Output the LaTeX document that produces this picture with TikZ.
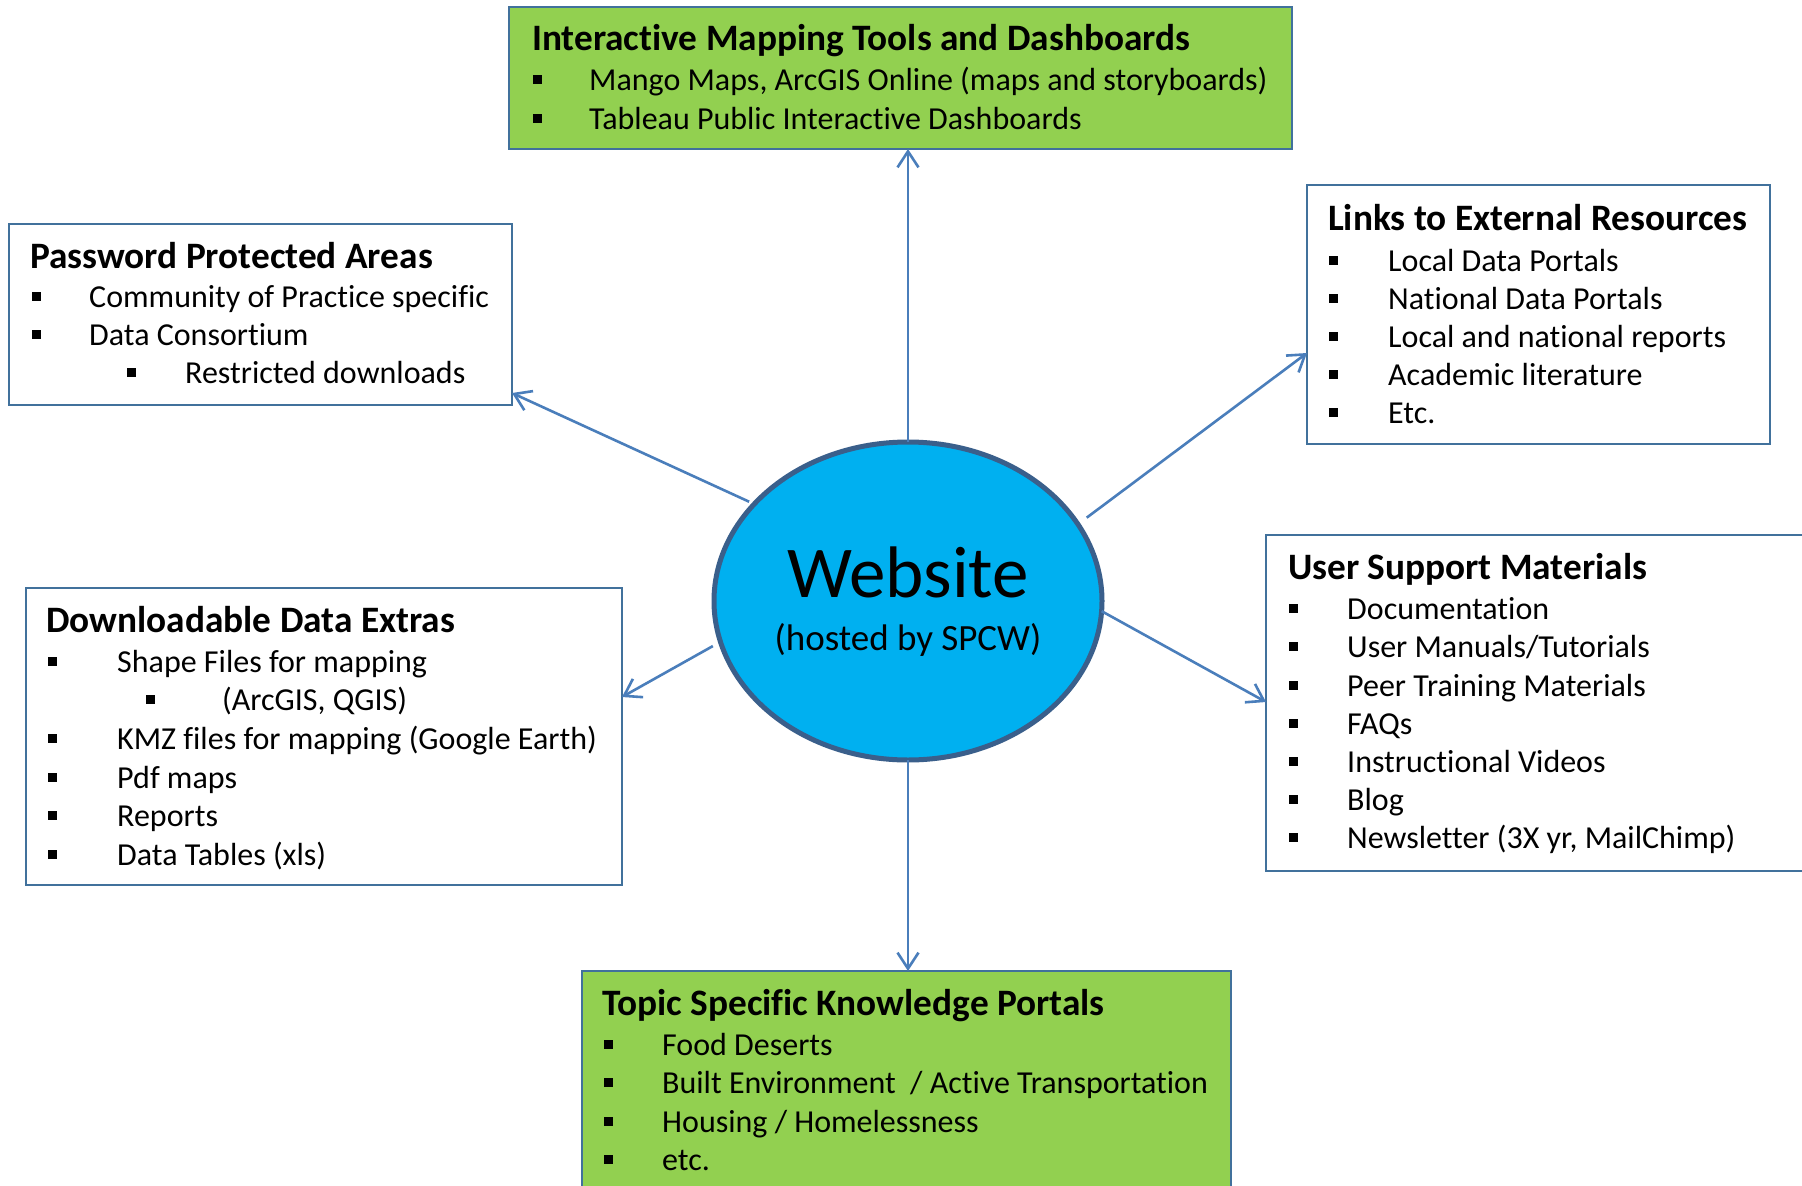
\documentclass[tikz,border=0pt]{standalone}
\usepackage{fontspec}
\setmainfont{Carlito}[Ligatures=NoCommon]
\usetikzlibrary{arrows.meta,calc,shapes.geometric}
\definecolor{boxline}{HTML}{41719C}
\definecolor{ellline}{HTML}{3A5F8B}
\definecolor{arrowc}{HTML}{4A7EBB}
\definecolor{greenf}{HTML}{92D050}
\definecolor{bluef}{HTML}{00B0F0}
\tikzset{
  box/.style={draw=boxline, line width=2.5pt, rectangle, inner sep=0pt, outer sep=0pt, anchor=north west},
  ttl/.style={anchor=base west, inner sep=0pt, font=\fontsize{37.3}{44}\selectfont\bfseries},
  itm/.style={anchor=base west, inner sep=0pt, font=\fontsize{32}{38}\selectfont},
  bul/.style={anchor=base west, inner sep=0pt},
  conn/.style={draw=arrowc, line width=2.6pt, line join=round, -{Straight Barb[length=16pt,width=21pt,line width=2.6pt]}},
}
\newcommand{\bsq}{\rule[6.5pt]{9pt}{9pt}}
\newcommand{\bitem}[5]{\node[bul] (#1b) at (#2,#4) {\bsq}; \node[itm] (#1) at (#3,#4) {#5};}
\begin{document}
\begin{tikzpicture}[x=1pt,y=-1pt]
\useasboundingbox (0,0) rectangle (1802,1186);
\fill[white] (0,0) rectangle (1802,1186);

% boxes
\node[box, fill=greenf, minimum width=783pt, minimum height=142pt] (top) at (509,7) {};
\node[box, fill=white, minimum width=503pt, minimum height=181pt] (pw) at (9,224) {};
\node[box, fill=white, minimum width=463pt, minimum height=259pt] (links) at (1307,185) {};
\node[box, fill=white, minimum width=596pt, minimum height=297pt] (dl) at (26,588) {};
\node[box, fill=white, minimum width=560pt, minimum height=336pt] (us) at (1266,535) {};
\node[box, fill=greenf, minimum width=649pt, minimum height=240pt] (topic) at (582,971) {};

% ellipse
\node[draw=ellline, fill=bluef, line width=5pt, ellipse, minimum width=388pt, minimum height=318pt, inner sep=0pt, outer sep=0pt] (web) at (908,601) {};
\node[anchor=base, inner sep=0pt, font=\fontsize{73}{86}\selectfont] (wt) at (908,597) {Website};
\node[anchor=base, inner sep=0pt, font=\fontsize{37}{44}\selectfont] (ws) at (908,650) {(hosted by SPCW)};

% top box
\node[ttl] (topt) at (532,50) {Interactive Mapping Tools and Dashboards};
\bitem{t1}{533}{589}{90}{Mango Maps, ArcGIS Online (maps and storyboards)}
\bitem{t2}{533}{589}{129}{Tableau Public Interactive Dashboards}

% password box
\node[ttl] (pwt) at (30,268) {Password Protected Areas};
\bitem{p1}{32}{89}{307}{Community of Practice specific}
\bitem{p2}{32}{89}{345}{Data Consortium}
\bitem{p3}{127}{185}{383}{Restricted downloads}

% links box
\node[ttl] (lkt) at (1328,230) {Links to External Resources};
\bitem{l1}{1329}{1388}{271}{Local Data Portals}
\bitem{l2}{1329}{1388}{309}{National Data Portals}
\bitem{l3}{1329}{1388}{347}{Local and national reports}
\bitem{l4}{1329}{1388}{385}{Academic literature}
\bitem{l5}{1329}{1388}{423}{Etc.}

% downloadable box
\node[ttl] (dlt) at (46,632) {Downloadable Data Extras};
\bitem{d1}{48}{117}{672}{Shape Files for mapping}
\bitem{d2}{146}{222}{710}{(ArcGIS, QGIS)}
\bitem{d3}{48}{117}{749}{KMZ files for mapping (Google Earth)}
\bitem{d4}{48}{117}{788}{Pdf maps}
\bitem{d5}{48}{117}{826}{Reports}
\bitem{d6}{48}{117}{865}{Data Tables (xls)}

% user support box
\node[ttl] (ust) at (1288,579) {User Support Materials};
\bitem{u1}{1289}{1347}{619}{Documentation}
\bitem{u2}{1289}{1347}{657}{User Manuals/Tutorials}
\bitem{u3}{1289}{1347}{696}{Peer Training Materials}
\bitem{u4}{1289}{1347}{734}{FAQs}
\bitem{u5}{1289}{1347}{772}{Instructional Videos}
\bitem{u6}{1289}{1347}{810}{Blog}
\bitem{u7}{1289}{1347}{848}{Newsletter (3X yr, MailChimp)}

% topic box
\node[ttl] (tpt) at (602,1015) {Topic Specific Knowledge Portals};
\bitem{k1}{604}{662}{1055}{Food Deserts}
\bitem{k2}{604}{662}{1093}{Built Environment~ / Active Transportation}
\bitem{k3}{604}{662}{1132}{Housing / Homelessness}
\bitem{k4}{604}{662}{1170}{etc.}

% connectors
\draw[conn] (web.north) -- (web.north |- top.south);
\draw[conn] (web.south) -- (web.south |- topic.north);
\draw[conn] ($(web.center)!1.03!(web.148)$) -- ($(pw.south east)+(0,-12)$);
\draw[conn] ($(web.center)!1.06!(web.25.5)$) -- ($(links.south west)+(0,-91)$);
\draw[conn] ($(web.center)!1.045!(web.193.3)$) -- ($(dl.south east)+(0,-188)$);
\draw[conn] ($(web.center)!1.0!(web.-3.2)$) -- ($(us.north west)+(0,167)$);
\end{tikzpicture}
\end{document}
